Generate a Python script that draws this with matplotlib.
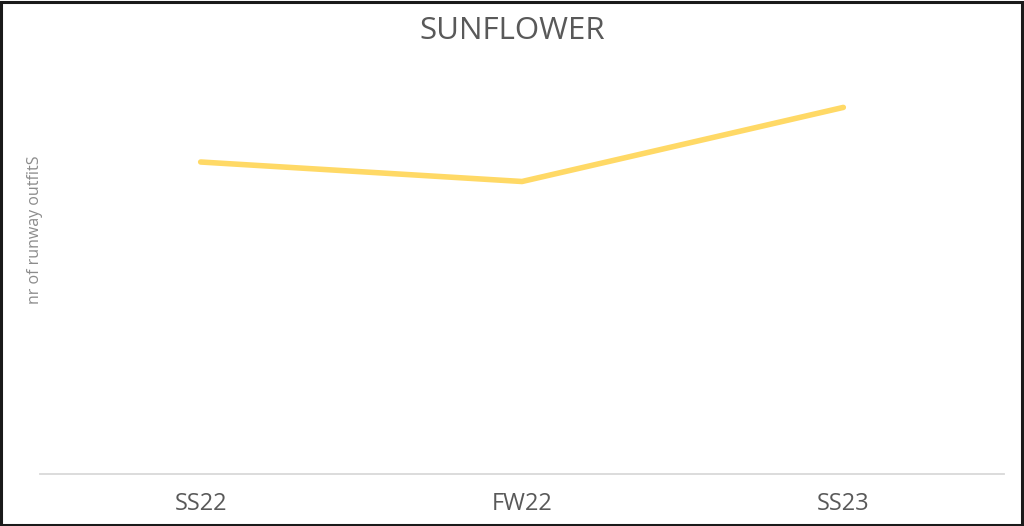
import matplotlib
matplotlib.use('Agg')
import matplotlib.pyplot as plt
from matplotlib.patches import Rectangle

seasons = ['SS22', 'FW22', 'SS23']
outfits = [16, 15, 18.8]

plt.rcParams['font.family'] = ['Open Sans', 'DejaVu Sans']

fig = plt.figure(figsize=(10.24, 5.26), dpi=100)
# axes: x 40..1004 px, y from baseline 474 px up to ~64 px
ax = fig.add_axes([40 / 1024, (526 - 474) / 526, 964 / 1024, (474 - 64.5) / 526])

ax.plot(range(len(seasons)), outfits, color='#FFD966', linewidth=4, solid_capstyle='round')
ax.set_xlim(-0.5, 2.5)
ax.set_ylim(0, 21)

for side in ['top', 'right', 'left']:
    ax.spines[side].set_visible(False)
ax.spines['bottom'].set_color('#d9d9d9')
ax.spines['bottom'].set_linewidth(1.3)

ax.set_xticks(range(len(seasons)))
ax.set_xticklabels(seasons, fontsize=17, color='#595959')
ax.tick_params(axis='x', length=0, pad=13)
ax.set_yticks([])

fig.text(0.5, 1 - 31 / 526, 'SUNFLOWER', ha='center', va='center', fontsize=22.5, color='#595959')
fig.text(35 / 1024, 1 - 230 / 526, 'nr of runway outfitS', rotation=90, ha='center', va='center',
         fontsize=11.5, color='#8c8c8c')

# black frame round the picture
fig.patches.append(Rectangle((0.001, 0.002), 0.997, 0.995, transform=fig.transFigure,
                             fill=False, edgecolor='#1a1a1a', linewidth=2.2))

plt.savefig('out.png', dpi=100)
plt.close()
